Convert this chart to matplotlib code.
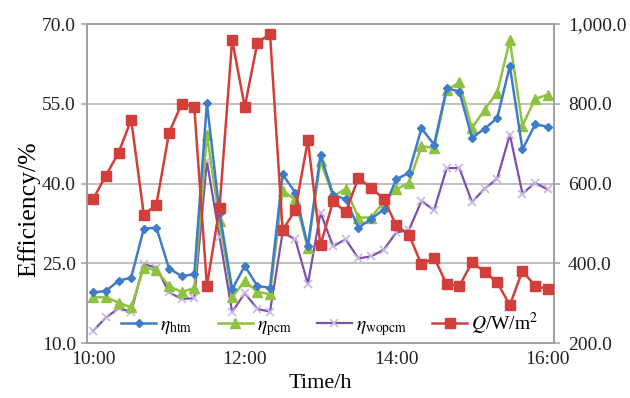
import numpy as np
import matplotlib
matplotlib.use('Agg')
import matplotlib.pyplot as plt

# Ten-minute samples from 10:00 to 16:00
times = ['10:00', '10:10', '10:20', '10:30', '10:40', '10:50',
         '11:00', '11:10', '11:20', '11:30', '11:40', '11:50',
         '12:00', '12:10', '12:20', '12:30', '12:40', '12:50',
         '13:00', '13:10', '13:20', '13:30', '13:40', '13:50',
         '14:00', '14:10', '14:20', '14:30', '14:40', '14:50',
         '15:00', '15:10', '15:20', '15:30', '15:40', '15:50',
         '16:00']
tick_labels = ['10:00', '12:00', '14:00', '16:00']

eta_htm = [19.5, 19.8, 21.7, 22.3, 31.5, 31.7, 24.0, 22.6, 22.9, 55.1,
           34.5, 20.1, 24.5, 20.7, 20.4, 41.7, 38.3, 28.2, 45.4, 37.9,
           37.0, 31.7, 33.3, 35.1, 40.8, 42.0, 50.4, 47.3, 57.9, 57.3,
           48.6, 50.3, 52.3, 62.1, 46.4, 51.1, 50.7]
eta_pcm = [18.6, 18.6, 17.6, 16.7, 24.2, 23.7, 20.7, 19.6, 20.3, 49.2,
           33.0, 18.6, 21.7, 19.6, 19.2, 38.6, 37.0, 27.8, 44.2, 37.6,
           39.0, 33.6, 33.6, 36.5, 38.9, 40.1, 47.0, 46.7, 57.6, 59.0,
           50.4, 53.9, 57.1, 66.9, 50.9, 55.9, 56.7]
eta_wopcm = [12.3, 14.8, 16.5, 15.9, 24.8, 24.2, 19.5, 18.3, 18.4, 44.2,
             30.0, 15.8, 19.4, 16.4, 15.9, 30.8, 29.5, 21.1, 34.5, 28.2,
             29.5, 25.9, 26.3, 27.5, 30.8, 31.2, 36.7, 35.0, 42.9, 42.9,
             36.5, 39.0, 40.9, 49.2, 38.1, 40.1, 38.9]
q_irr = [562, 620, 677, 760, 522, 547, 727, 800, 792, 343,
         539, 960, 792, 953, 975, 483, 533, 708, 445, 556,
         528, 614, 589, 562, 495, 472, 397, 414, 347, 343,
         402, 379, 352, 295, 381, 343, 335]

plt.rcParams['font.family'] = ['Liberation Serif', 'DejaVu Serif']
plt.rcParams['mathtext.fontset'] = 'stix'

x = np.arange(len(times))

fig = plt.figure(figsize=(6.3, 3.98), dpi=100)
ax = fig.add_axes([87 / 630, 1 - 343 / 398, (554 - 87) / 630, (343 - 24) / 398])
ax2 = ax.twinx()

blue, green, purple, red = '#3f7cc8', '#8fc23f', '#7f4fb0', '#d23f3a'
grid_c = '#b5b5b5'

l1, = ax.plot(x, eta_htm, color=blue, lw=1.8, marker='D', ms=4.5, zorder=4)
l2, = ax.plot(x, eta_pcm, color=green, lw=1.8, marker='^', ms=6.5, zorder=3)
l3, = ax.plot(x, eta_wopcm, color=purple, lw=1.6, marker='x', ms=6,
              mec='#c7b8e0', mew=1.2, zorder=2)
# irradiance on the secondary axis, drawn over the efficiency curves
l4, = ax2.plot(x, q_irr, color=red, lw=1.8, marker='s', ms=7, zorder=5)

ax.set_xlim(-0.5, len(times) - 0.5)
ax.set_ylim(10, 70)
ax.set_yticks([10, 25, 40, 55, 70])
ax.set_yticklabels([f'{v:.1f}' for v in [10, 25, 40, 55, 70]])
ax2.set_ylim(200, 1000)
ax2.set_yticks([200, 400, 600, 800, 1000])
ax2.set_yticklabels([f'{v:,.1f}' for v in [200, 400, 600, 800, 1000]])

ax.set_xticks([times.index(t) for t in tick_labels])
ax.set_xticklabels(tick_labels)

ax.yaxis.grid(True, color=grid_c, lw=1.2)
ax.set_axisbelow(True)

for a in (ax, ax2):
    for s in a.spines.values():
        s.set_color('#a0a0a0')
        s.set_linewidth(1.2)
    a.tick_params(colors='#a0a0a0', labelcolor='#222222', labelsize=14,
                  length=4, width=1.1)
ax.tick_params(axis='x', length=0, pad=6)
ax.tick_params(axis='y', pad=4)
ax2.tick_params(axis='y', pad=6)

ax.set_xlabel('Time/h', fontsize=16, labelpad=4)
ax.set_ylabel('Efficiency/%', fontsize=18.5)
ax.yaxis.set_label_coords(-0.1, 0.42)

ax2.legend([l1, l2, l3, l4],
           [r'$\eta_{\rm htm}$', r'$\eta_{\rm pcm}$', r'$\eta_{\rm wopcm}$',
            r'$Q$/W/m$^2$'],
           loc='lower center', bbox_to_anchor=(0.52, -0.02), ncol=4,
           frameon=False, fontsize=14, handlelength=1.8,
           handletextpad=0.2, columnspacing=1.3, borderaxespad=0.2)

fig.savefig('out.png', dpi=100, facecolor='white')
